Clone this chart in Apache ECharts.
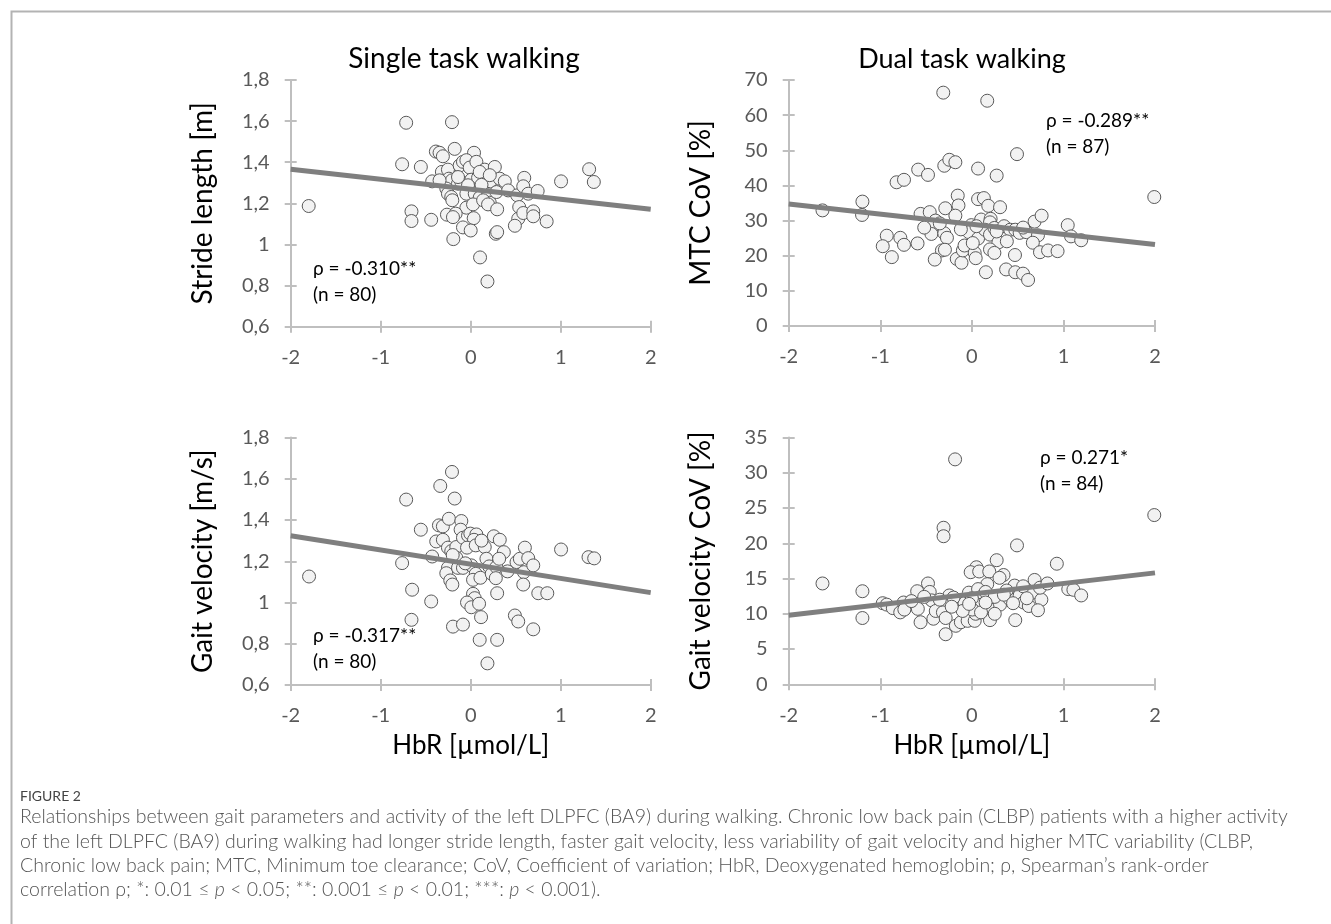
<!DOCTYPE html>
<html><head><meta charset="utf-8">
<script src="https://cdn.jsdelivr.net/npm/echarts@6/dist/echarts.min.js"></script>
<style>html,body{margin:0;padding:0;background:#fff}#c{width:1331px;height:924px}</style>
</head><body><div id="c"></div>
<script>
// ---- data ----
const panelTitles = ['Single task walking', 'Dual task walking'];
const xAxisName = 'HbR [µmol/L]';
const yAxisNames = ['Stride length [m]', 'MTC CoV [%]', 'Gait velocity [m/s]', 'Gait velocity CoV [%]'];
const statLines = [['ρ = -0.310**', '(n = 80)'], ['ρ = -0.289**', '(n = 87)'], ['ρ = -0.317**', '(n = 80)'], ['ρ = 0.271*', '(n = 84)']];

const strideLength = [[-1.80,1.187],[-0.717,1.592],[-0.208,1.595],[-0.762,1.390],[-0.554,1.377],[-0.658,1.161],[-0.658,1.114],[-0.439,1.120],[-0.387,1.452],[-0.346,1.446],[-0.309,1.429],[-0.178,1.465],[0.037,1.446],[-0.428,1.307],[-0.320,1.353],[-0.253,1.364],[-0.242,1.320],[-0.208,1.312],[-0.123,1.384],[-0.086,1.402],[-0.048,1.410],[-0.011,1.374],[0.063,1.402],[0.156,1.364],[0.268,1.377],[-0.141,1.296],[-0.104,1.304],[0.007,1.315],[0.082,1.325],[0.219,1.307],[0.323,1.320],[0.379,1.307],[-0.271,1.272],[-0.253,1.247],[-0.216,1.231],[-0.204,1.215],[-0.030,1.288],[-0.048,1.247],[0.045,1.247],[0.100,1.228],[0.193,1.239],[0.212,1.203],[0.286,1.255],[0.416,1.263],[0.517,1.239],[0.595,1.324],[0.584,1.283],[0.639,1.247],[0.744,1.260],[1.004,1.307],[1.316,1.366],[1.368,1.304],[-0.048,1.179],[0.026,1.195],[0.138,1.215],[0.193,1.195],[0.294,1.171],[0.539,1.182],[0.528,1.125],[0.584,1.153],[0.695,1.161],[0.695,1.137],[0.844,1.112],[0.491,1.091],[-0.264,1.145],[-0.167,1.150],[-0.197,1.133],[0.033,1.128],[-0.086,1.083],[0.000,1.068],[-0.193,1.026],[0.279,1.052],[0.294,1.060],[0.104,0.937],[0.186,0.820],[-0.141,1.328],[0.100,1.353],[0.212,1.337],[-0.346,1.312],[0.120,1.290]];

const mtcCov = [[-0.312,66.4],[0.168,64.1],[0.493,48.9],[-0.301,45.6],[-0.246,47.3],[-0.180,46.6],[-0.586,44.5],[-0.479,43.0],[-0.822,40.9],[-0.741,41.6],[0.068,44.8],[0.271,42.8],[1.992,36.7],[-1.631,32.9],[-1.195,35.4],[-1.199,31.6],[-0.154,37.1],[-0.146,34.3],[-0.290,33.5],[-0.180,31.4],[0.068,36.1],[0.131,36.4],[0.179,34.2],[0.308,33.8],[-0.560,31.9],[-0.460,32.4],[-0.397,30.0],[-0.416,28.7],[-0.442,26.2],[-0.301,26.4],[-0.272,25.1],[-0.929,25.7],[-0.781,25.1],[-0.741,23.1],[-0.973,22.7],[-0.874,19.6],[-0.593,23.5],[-0.327,21.5],[-0.294,21.7],[-0.405,18.9],[-0.165,19.1],[-0.113,18.0],[-0.098,21.5],[-0.080,22.9],[-0.006,28.7],[-0.032,26.7],[0.068,24.9],[0.031,20.8],[0.042,19.3],[0.101,30.3],[0.205,30.5],[0.198,29.5],[0.142,27.4],[0.198,26.0],[0.246,27.9],[0.290,23.8],[0.198,21.8],[0.246,20.8],[0.352,28.4],[0.419,27.4],[0.474,27.4],[0.522,26.5],[0.596,26.7],[0.382,24.1],[0.471,20.2],[0.153,15.3],[0.374,16.1],[0.474,15.3],[0.559,14.9],[0.614,13.1],[0.685,29.7],[0.762,31.4],[0.722,25.8],[0.666,23.7],[0.744,21.0],[0.832,21.5],[0.936,21.3],[1.047,28.7],[1.083,25.5],[1.194,24.4],[0.050,28.4],[0.270,26.9],[-0.520,28.0],[-0.350,29.2],[0.010,23.6],[0.560,28.0],[-0.120,27.5]];

const gaitVelocity = [[-1.796,1.126],[-0.717,1.499],[-0.208,1.633],[-0.338,1.565],[-0.178,1.504],[-0.554,1.353],[-0.762,1.191],[-0.651,1.062],[-0.439,1.005],[-0.658,0.916],[-0.353,1.374],[-0.309,1.369],[-0.242,1.406],[-0.104,1.395],[-0.112,1.353],[-0.383,1.296],[-0.309,1.304],[-0.253,1.266],[-0.216,1.249],[-0.160,1.269],[-0.086,1.314],[-0.030,1.325],[-0.004,1.334],[0.063,1.330],[0.037,1.304],[-0.041,1.266],[0.056,1.277],[0.156,1.269],[0.257,1.321],[0.323,1.304],[0.368,1.244],[-0.428,1.223],[-0.160,1.217],[-0.253,1.168],[-0.271,1.142],[-0.227,1.107],[-0.204,1.087],[-0.141,1.168],[-0.086,1.168],[0.007,1.180],[0.056,1.139],[0.026,1.110],[0.108,1.120],[0.175,1.212],[0.205,1.175],[0.234,1.139],[0.286,1.172],[0.316,1.212],[0.279,1.118],[0.409,1.151],[0.509,1.196],[0.546,1.212],[0.602,1.266],[0.639,1.215],[0.591,1.147],[0.695,1.180],[0.584,1.087],[0.751,1.045],[0.851,1.045],[1.004,1.257],[1.309,1.220],[1.372,1.214],[0.294,1.045],[0.026,1.042],[0.045,1.021],[-0.041,1.000],[0.007,0.977],[0.093,0.994],[0.115,0.929],[-0.197,0.883],[-0.086,0.893],[0.491,0.937],[0.528,0.908],[0.695,0.870],[0.100,0.819],[0.294,0.819],[0.186,0.705],[-0.200,1.230],[0.120,1.300],[-0.060,1.190]];

const gaitVelocityCov = [[-0.183,31.9],[1.992,24.0],[-0.309,22.2],[-0.309,21.0],[0.493,19.7],[-1.631,14.3],[-1.195,13.2],[-1.195,9.4],[0.928,17.1],[0.271,17.6],[0.050,16.6],[-0.013,15.9],[0.080,16.0],[0.190,16.0],[0.346,15.5],[0.302,15.1],[0.168,14.2],[-0.479,14.3],[-0.597,13.2],[-0.460,13.1],[-0.438,11.9],[-0.246,12.6],[-0.294,11.2],[-0.146,11.8],[-0.080,11.5],[-0.032,13.0],[0.068,13.5],[0.131,12.7],[0.105,11.3],[0.209,10.6],[0.308,11.3],[0.412,12.1],[0.467,14.0],[0.522,12.6],[0.566,11.6],[0.622,11.1],[0.666,13.0],[0.685,14.8],[0.759,12.0],[0.744,13.7],[0.825,14.3],[0.722,10.5],[1.053,13.5],[1.109,13.4],[1.194,12.6],[-0.973,11.5],[-0.929,11.3],[-0.863,10.8],[-0.745,11.6],[-0.782,10.2],[-0.737,10.6],[-0.590,10.7],[-0.560,8.8],[-0.420,9.3],[-0.394,10.4],[-0.316,10.2],[-0.286,9.4],[-0.175,8.3],[-0.120,8.8],[-0.046,9.0],[0.031,9.0],[0.042,10.0],[0.005,10.6],[0.198,9.1],[0.474,9.1],[-0.286,7.1],[-0.350,12.0],[-0.200,12.3],[0.000,12.2],[0.150,13.1],[0.250,12.4],[0.380,13.3],[0.560,13.9],[0.600,12.2],[-0.520,12.4],[-0.660,11.8],[-0.100,10.4],[0.100,10.2],[0.250,10.0],[0.350,12.7],[-0.030,11.4],[0.150,11.6],[-0.220,11.0],[0.450,11.5]];

// trend lines (end points at x = -2 and x = 2)
const strideTrend = [[-2, 1.366], [2, 1.171]];
const mtcTrend = [[-2, 34.7], [2, 23.2]];
const velocityTrend = [[-2, 1.324], [2, 1.048]];
const velocityCovTrend = [[-2, 9.8], [2, 15.8]];

// axis ranges
const xRange = {min: -2, max: 2, interval: 1};
const yRanges = [{min: 0.6, max: 1.8, interval: 0.2}, {min: 0, max: 70, interval: 10}, {min: 0.6, max: 1.8, interval: 0.2}, {min: 0, max: 35, interval: 5}];

const captionHead = 'FIGURE 2';
// {i|...} marks italic segments
const captionLines = [
 'Relationships between gait parameters and activity of the left DLPFC (BA9) during walking. Chronic low back pain (CLBP) patients with a higher activity',
 'of the left DLPFC (BA9) during walking had longer stride length, faster gait velocity, less variability of gait velocity and higher MTC variability (CLBP,',
 'Chronic low back pain; MTC, Minimum toe clearance; CoV, Coefficient of variation; HbR, Deoxygenated hemoglobin; ρ, Spearman’s rank-order',
 'correlation ρ; *: 0.01 ≤ {i|p} < 0.05; **: 0.001 ≤ {i|p} < 0.01; ***: {i|p} < 0.001).'
];

// ---- layout / style ----
const FONT = 'Lato';
const axisGrey = '#bfbfbf';
const labelGrey = '#595959';
const grids = [
  {left: 290.7, top: 80, width: 360, height: 246.7},
  {left: 788.7, top: 80, width: 366.3, height: 246},
  {left: 290.7, top: 437.5, width: 360, height: 247.5},
  {left: 788.7, top: 437.5, width: 366.3, height: 246.8}
];
const scatterSets = [strideLength, mtcCov, gaitVelocity, gaitVelocityCov];
const trendSets = [strideTrend, mtcTrend, velocityTrend, velocityCovTrend];

function fmt(v) { return String(+(+v).toFixed(2)).replace('.', ','); }

const xAxes = [], yAxes = [], series = [];
grids.forEach((g, i) => {
  const bottomRow = i >= 2;
  xAxes.push({
    gridIndex: i, type: 'value', min: xRange.min, max: xRange.max, interval: xRange.interval,
    position: 'bottom',
    axisLine: {onZero: false, lineStyle: {color: axisGrey, width: 2}},
    axisTick: {length: 6, lineStyle: {color: axisGrey, width: 2}},
    axisLabel: {fontFamily: FONT, fontSize: 20, color: labelGrey, margin: 21},
    splitLine: {show: false},
    name: bottomRow ? xAxisName : '', nameLocation: 'middle', nameGap: 48,
    nameTextStyle: {fontFamily: FONT, fontSize: 26, color: '#000'}
  });
  xAxes.push({
    gridIndex: i, type: 'value', min: xRange.min, max: xRange.max, interval: xRange.interval,
    position: 'bottom', offset: 0,
    axisLine: {show: false, onZero: false},
    axisTick: {show: true, inside: true, length: 6, lineStyle: {color: axisGrey, width: 2}},
    axisLabel: {show: false}, splitLine: {show: false}
  });
  const yr = yRanges[i];
  yAxes.push({
    gridIndex: i, type: 'value', min: yr.min, max: yr.max, interval: yr.interval,
    position: 'left',
    axisLine: {show: true, onZero: false, lineStyle: {color: axisGrey, width: 2}},
    axisTick: {show: true, length: 6, lineStyle: {color: axisGrey, width: 2}},
    axisLabel: {fontFamily: FONT, fontSize: 20, color: labelGrey, margin: 21, formatter: fmt},
    splitLine: {show: false},
    name: yAxisNames[i], nameLocation: 'middle', nameGap: 74, nameRotate: 90,
    nameTextStyle: {fontFamily: FONT, fontSize: 28, color: '#000'}
  });
  yAxes.push({
    gridIndex: i, type: 'value', min: yr.min, max: yr.max, interval: yr.interval,
    position: 'left', offset: 0,
    axisLine: {show: false, onZero: false},
    axisTick: {show: true, inside: true, length: 6, lineStyle: {color: axisGrey, width: 2}},
    axisLabel: {show: false}, splitLine: {show: false}
  });
  series.push({
    type: 'scatter', xAxisIndex: 2 * i, yAxisIndex: 2 * i, data: scatterSets[i],
    symbol: 'circle', symbolSize: 13, z: 2,
    itemStyle: {color: '#f2f2f2', borderColor: '#595959', borderWidth: 1, opacity: 1}
  });
  series.push({
    type: 'line', xAxisIndex: 2 * i, yAxisIndex: 2 * i, data: trendSets[i],
    showSymbol: false, symbol: 'none', z: 3,
    lineStyle: {color: '#7f7f7f', width: 5}
  });
});

const statPos = [[313, 271], [1046, 123], [313, 638], [1040, 460]];
const graphics = [
  {type: 'rect', left: 9, top: 9, shape: {width: 1400, height: 1000}, style: {fill: 'none', stroke: '#b3b3b3', lineWidth: 2}, silent: true}
];
statLines.forEach((s, i) => {
  graphics.push({type: 'text', left: statPos[i][0], top: statPos[i][1] - 12, style: {text: s[0], font: '19px ' + FONT, fill: '#000'}});
  graphics.push({type: 'text', left: statPos[i][0], top: statPos[i][1] + 14, style: {text: s[1], font: '19px ' + FONT, fill: '#000'}});
});
graphics.push({type: 'text', left: 20, top: 789, style: {text: captionHead, font: '14px ' + FONT, fill: '#444'}});
captionLines.forEach((t, k) => {
  graphics.push({type: 'text', left: 20, top: 807 + k * 24.4, style: {
    text: t, fontFamily: FONT, fontSize: 19.5, fontWeight: 300, fill: '#555',
    rich: {i: {fontFamily: FONT, fontSize: 19.5, fontWeight: 300, fontStyle: 'italic', fill: '#555'}}
  }});
});

const chart = echarts.init(document.getElementById('c'), null, {renderer: 'canvas'});
chart.setOption({
  animation: false,
  backgroundColor: '#fff',
  title: [
    {text: panelTitles[0], left: 459, top: 40, textAlign: 'center', textStyle: {fontFamily: FONT, fontSize: 28, fontWeight: 'normal', color: '#000'}},
    {text: panelTitles[1], left: 957, top: 41, textAlign: 'center', textStyle: {fontFamily: FONT, fontSize: 27, fontWeight: 'normal', color: '#000'}}
  ],
  grid: grids.map(g => Object.assign({containLabel: false}, g)),
  xAxis: xAxes, yAxis: yAxes, series: series, graphic: graphics
});
</script></body></html>
